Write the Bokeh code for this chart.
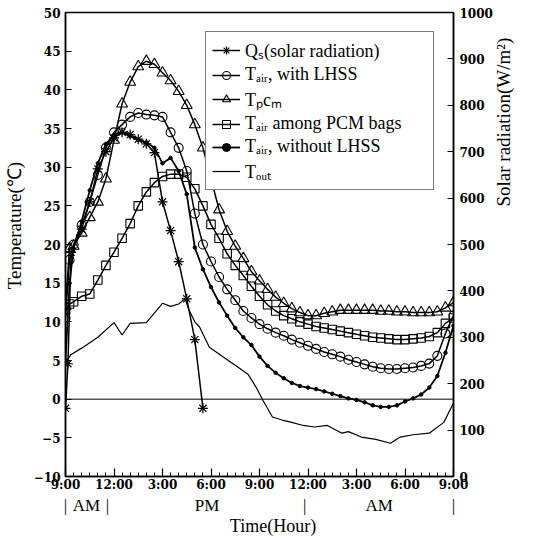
import math
from bokeh.plotting import figure
from bokeh.models import (Range1d, LinearAxis, FixedTicker, Span, Legend, LegendItem)
from bokeh.embed import file_html
from bokeh.resources import INLINE

# ---------------- data (hours after 9:00 AM) ----------------
hours = [0, 0.25, 0.5, 1, 1.5, 2, 2.5, 3, 3.5, 4, 4.5, 5, 5.5, 6, 6.5, 7, 7.5, 8,
         8.5, 9, 9.5, 10, 10.5, 11, 11.5, 12, 12.5, 13, 13.5, 14, 14.5, 15, 15.5,
         16, 16.5, 17, 17.5, 18, 18.5, 19, 19.5, 20, 20.5, 21, 21.5, 22, 22.5, 23,
         23.5, 24]

t_air_with = [10.5, 18, 20, 22.5, 25.5, 29, 32.5, 34.5, 35.5, 36.5, 37, 36.8, 36.7,
              36.5, 34.5, 32.5, 29.5, 24, 20, 17.8, 15.8, 14.2, 12.8, 11.4, 10.5,
              9.7, 9.1, 8.6, 8.2, 7.7, 7.3, 6.9, 6.5, 6.1, 5.8, 5.5, 5.1, 4.8, 4.5,
              4.2, 4.0, 3.9, 3.9, 4.0, 4.1, 4.3, 4.6, 5.6, 8.5, 10.8]

t_pcm = [12, 19.5, 19.8, 21.5, 23.5, 25.5, 28.5, 33.5, 38.2, 41, 43, 43.7, 43.3,
         42.2, 41.2, 39.8, 38, 35.5, 32.5, 28.5, 24.5, 21.7, 19.8, 18.2, 16.5, 15.3,
         14.2, 13.2, 12.4, 11.7, 11.2, 10.8, 10.8, 11.1, 11.3, 11.5, 11.5, 11.5, 11.5,
         11.5, 11.4, 11.4, 11.3, 11.3, 11.2, 11.2, 11.2, 11.3, 11.8, 12.5]

t_air_bags = [11.5, 12.3, 12.6, 13.3, 13.6, 15.4, 17.3, 19, 20.8, 22.7, 25, 26.8, 28,
              28.8, 29.1, 29.1, 28.7, 27.2, 25, 22.6, 20.8, 18.8, 17.3, 16, 14.6,
              13.3, 12.2, 11.4, 10.8, 10.4, 10.0, 9.7, 9.4, 9.2, 9.0, 8.8, 8.6, 8.4,
              8.2, 8.0, 7.9, 7.8, 7.7, 7.7, 7.8, 7.9, 8.1, 8.6, 9.8, 10.5]

t_air_without = [5, 15, 19.5, 23, 27, 30.5, 33, 34.2, 34.5, 34.0, 33.5, 33.2, 32.5,
                 30.5, 31.2, 29.5, 26.5, 19.6, 16.8, 14.5, 12.5, 10.8, 9.2, 8.0, 7.0,
                 5.5, 4.3, 3.4, 2.7, 2.1, 1.7, 1.5, 1.3, 1.0, 0.7, 0.4, 0.1, -0.1,
                 -0.4, -0.8, -1.0, -1.0, -0.8, -0.3, 0.1, 0.6, 1.5, 3.0, 6.0, 9.5]

out_hours = [0, 0.3, 1, 2, 3, 3.5, 4, 5, 6, 6.5, 7, 7.4, 7.6, 8, 8.3, 8.9, 9.8, 10.7,
             11.3, 11.8, 12.2, 12.8, 13.4, 14, 14.7, 15.4, 16.2, 17.1, 17.5, 18.3,
             19.2, 20.1, 20.7, 21.5, 22.5, 23.4, 24]
t_out = [4.6, 5.7, 6.6, 8.0, 9.9, 8.3, 9.8, 9.9, 12.4, 12.0, 12.3, 13.0, 11.7, 10.0,
         9.3, 6.7, 5.4, 4.1, 3.2, 1.5, -0.1, -2.3, -2.7, -3.0, -3.4, -3.6, -3.4,
         -4.4, -4.2, -4.9, -5.2, -5.7, -4.9, -4.6, -4.4, -3.0, -0.5]

qs_hours = [0, 0.15, 0.35, 1, 1.5, 2, 2.5, 3, 3.5, 4, 4.5, 5, 5.5, 6, 6.5, 7, 7.5, 8, 8.5]
qs_solar = [147, 243, 483, 533, 592, 663, 700, 730, 742, 737, 727, 717, 698, 592, 530,
            463, 383, 295, 147]

x_ticks = [0, 3, 6, 9, 12, 15, 18, 21, 24]
x_tick_labels = ["9:00", "12:00", "3:00", "6:00", "9:00", "12:00", "3:00", "6:00", "9:00"]
x_minor = [0.5 * i for i in range(49)]
period_pos = [0, 1.3, 2.6, 8.75, 14.8, 19.4, 24]
period_labels = ["|", "AM", "|", "PM", "|", "AM", "|"]
y_ticks = [-10, -5, 0, 5, 10, 15, 20, 25, 30, 35, 40, 45, 50]
solar_ticks = [0, 100, 200, 300, 400, 500, 600, 700, 800, 900, 1000]

legend_labels = ["Qₛ(solar radiation)", "Tₐᵢᵣ, with LHSS", "Tₚcₘ",
                 "Tₐᵢᵣ among PCM bags", "Tₐᵢᵣ, without LHSS", "Tₒᵤₜ"]

SERIF = "Liberation Serif"
TICKFONT = "DejaVu Serif"
NB = "\u00a0"

# ---------------- figure ----------------
p = figure(width=527, height=538, x_range=Range1d(0, 24), y_range=Range1d(-10, 50),
           output_backend="svg", toolbar_location=None,
           min_border_left=59, min_border_right=70, min_border_top=12,
           min_border_bottom=50)
p.extra_y_ranges = {"solar": Range1d(0, 1000)}
p.grid.visible = False
p.outline_line_color = "black"
p.outline_line_width = 1.5
p.background_fill_color = "white"
p.border_fill_color = "white"

# axes
p.xaxis.ticker = FixedTicker(ticks=x_ticks, minor_ticks=x_minor)
p.xaxis.major_label_overrides = {t: l for t, l in zip(x_ticks, x_tick_labels)}
p.yaxis.ticker = FixedTicker(ticks=y_ticks)
right = LinearAxis(y_range_name="solar", ticker=FixedTicker(ticks=solar_ticks))
p.add_layout(right, "right")

for ax in [p.xaxis[0], p.yaxis[0], right]:
    ax.axis_line_color = "black"
    ax.axis_line_width = 1.5
    ax.major_tick_line_color = "black"
    ax.major_tick_line_width = 1.2
    ax.major_tick_in = 6
    ax.major_tick_out = 0
    ax.major_label_text_font = TICKFONT
    ax.major_label_text_font_style = "bold"
    ax.major_label_text_font_size = "12px"
    ax.major_label_text_color = "black"
    ax.minor_tick_line_color = None
    ax.axis_label_text_font = SERIF
    ax.axis_label_text_font_style = "normal"
    ax.axis_label_text_font_size = "19px"
    ax.axis_label_text_color = "black"
p.xaxis.minor_tick_line_color = "black"
p.xaxis.minor_tick_in = 4
p.xaxis.minor_tick_out = 0
p.xaxis.major_tick_in = 8
p.xaxis.major_label_standoff = 1
p.yaxis.major_label_standoff = 5
right.major_label_standoff = 6

p.yaxis.axis_label = NB * 8 + "Temperature(℃)"
p.yaxis.axis_label_standoff = 6
right.axis_label = NB * 8 + "Solar radiation(W/m²)"
right.axis_label_standoff = 8
if "axis_label_orientation" in right.properties():
    right.axis_label_orientation = math.pi / 2

# second row under the time axis: AM / PM markers and the axis title
period_axis = LinearAxis(ticker=FixedTicker(ticks=period_pos))
period_axis.major_label_overrides = {t: l for t, l in zip(period_pos, period_labels)}
period_axis.axis_line_color = None
period_axis.major_tick_line_color = None
period_axis.minor_tick_line_color = None
period_axis.major_label_standoff = -5
period_axis.major_label_text_font = SERIF
period_axis.major_label_text_font_size = "17px"
period_axis.major_label_text_color = "black"
period_axis.axis_label = NB * 6 + "Time(Hour)"
period_axis.axis_label_standoff = -2
period_axis.axis_label_text_font = SERIF
period_axis.axis_label_text_font_style = "normal"
period_axis.axis_label_text_font_size = "18px"
period_axis.axis_label_text_color = "black"
p.add_layout(period_axis, "below")

# zero line
p.add_layout(Span(location=0, dimension="width", line_color="black", line_width=1))

# ---------------- series ----------------
r_qs_l = p.line(qs_hours, qs_solar, y_range_name="solar", line_color="black", line_width=1.5)
r_qs_m = p.scatter(qs_hours, qs_solar, y_range_name="solar", marker="asterisk", size=10,
                   line_color="black", line_width=1.2)

r_w_l = p.line(hours, t_air_with, line_color="black", line_width=1.5)
r_w_m = p.scatter(hours, t_air_with, marker="circle", size=9, fill_color=None,
                  line_color="black", line_width=1.1)

r_p_l = p.line(hours, t_pcm, line_color="black", line_width=1.5)
r_p_m = p.scatter(hours, t_pcm, marker="triangle", size=11, fill_color=None,
                  line_color="black", line_width=1.1)

r_b_l = p.line(hours, t_air_bags, line_color="black", line_width=1.5)
r_b_m = p.scatter(hours, t_air_bags, marker="square", size=8.5, fill_color=None,
                  line_color="black", line_width=1.1)

r_n_l = p.line(hours, t_air_without, line_color="black", line_width=1.8)
r_n_m = p.scatter(hours, t_air_without, marker="circle", size=3.5, fill_color="black",
                  line_color="black")

r_o_l = p.line(out_hours, t_out, line_color="black", line_width=1.2)

# ---------------- legend ----------------
groups = [[r_qs_l, r_qs_m], [r_w_l, r_w_m], [r_p_l, r_p_m], [r_b_l, r_b_m],
          [r_n_l, r_n_m], [r_o_l]]
items = [LegendItem(label=lab, renderers=g) for lab, g in zip(legend_labels, groups)]
legend = Legend(items=items, location=(140, 286), padding=6, spacing=2,
                label_height=20, glyph_height=20, glyph_width=28, label_standoff=5,
                label_width=182, border_line_color="black", border_line_width=1.5,
                background_fill_color="white", background_fill_alpha=1, margin=0,
                label_text_font=SERIF, label_text_font_size="18px",
                label_text_color="black")
p.add_layout(legend, "center")

open("out.html", "w").write(file_html(p, INLINE))
